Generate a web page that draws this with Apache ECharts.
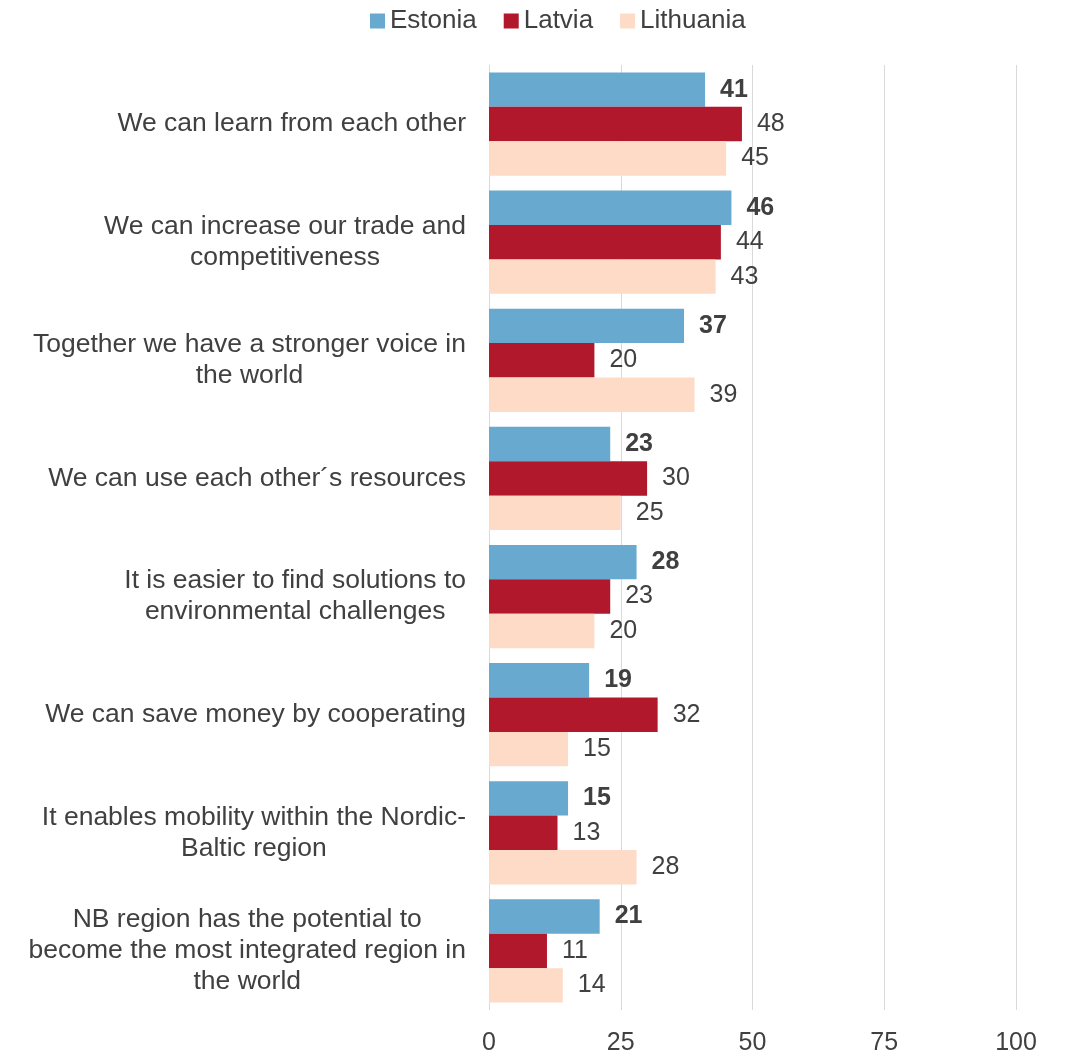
<!DOCTYPE html>
<html>
<head>
<meta charset="utf-8">
<script src="https://cdn.jsdelivr.net/npm/echarts@6/dist/echarts.min.js"></script>
<style>
  html, body { margin: 0; padding: 0; background: #ffffff; }
  #chart { width: 1068px; height: 1057px; }
</style>
</head>
<body>
<div id="chart"></div>
<script>
// Reasons for Nordic-Baltic cooperation, share of respondents (%)
const categories = [
  "We can learn from each other",
  "We can increase our trade and\ncompetitiveness",
  "Together we have a stronger voice in\nthe world",
  "We can use each other´s resources",
  "It is easier to find solutions to\nenvironmental challenges",
  "We can save money by cooperating",
  "It enables mobility within the Nordic-\nBaltic region",
  "NB region has the potential to\nbecome the most integrated region in\nthe world"
];
const estonia   = [41, 46, 37, 23, 28, 19, 15, 21];
const latvia    = [48, 44, 20, 30, 23, 32, 13, 11];
const lithuania = [45, 43, 39, 25, 20, 15, 28, 14];
const xTicks = [0, 25, 50, 75, 100];

const FONT = "'Liberation Sans', Arial, sans-serif";
const TEXT = "#404040";

const chart = echarts.init(document.getElementById('chart'), null, { renderer: 'canvas' });

function barSeries(name, data, color, bold) {
  return {
    name: name,
    type: 'bar',
    data: data,
    barGap: '0%',
    barCategoryGap: '12.5%',
    itemStyle: { color: color },
    label: {
      show: true,
      position: 'right',
      distance: 15,
      color: TEXT,
      fontFamily: FONT,
      fontSize: 25,
      fontWeight: bold ? 'bold' : 'normal'
    }
  };
}

chart.setOption({
  animation: false,
  backgroundColor: '#ffffff',
  legend: {
    left: 370,
    top: 8,
    padding: 0,
    itemWidth: 15,
    itemHeight: 15,
    itemGap: 27,
    icon: 'rect',
    textStyle: { color: TEXT, fontFamily: FONT, fontSize: 26 },
    data: ['Estonia', 'Latvia', 'Lithuania']
  },
  grid: { left: 489, right: 52, top: 65, bottom: 47, containLabel: false },
  xAxis: {
    type: 'value',
    min: xTicks[0],
    max: xTicks[xTicks.length - 1],
    interval: 25,
    axisLine: { show: false },
    axisTick: { show: false },
    splitLine: { show: true, lineStyle: { color: '#d9d9d9', width: 1 } },
    axisLabel: { color: TEXT, fontFamily: FONT, fontSize: 25, margin: 21 }
  },
  yAxis: {
    type: 'category',
    inverse: true,
    data: categories,
    axisLine: { show: false },
    axisTick: { show: false },
    axisLabel: {
      margin: 23,
      color: TEXT,
      fontFamily: FONT,
      fontSize: 26.5,
      lineHeight: 31,
      formatter: function (v) {
        return v.split('\n').map(function (l) { return '{c|' + l + '}'; }).join('\n');
      },
      rich: {
        c: { align: 'center', color: TEXT, fontFamily: FONT, fontSize: 26.5, lineHeight: 31 }
      }
    }
  },
  series: [
    barSeries('Estonia', estonia, '#67a9cf', true),
    barSeries('Latvia', latvia, '#b2182b', false),
    barSeries('Lithuania', lithuania, '#fddbc7', false)
  ]
});
</script>
</body>
</html>
